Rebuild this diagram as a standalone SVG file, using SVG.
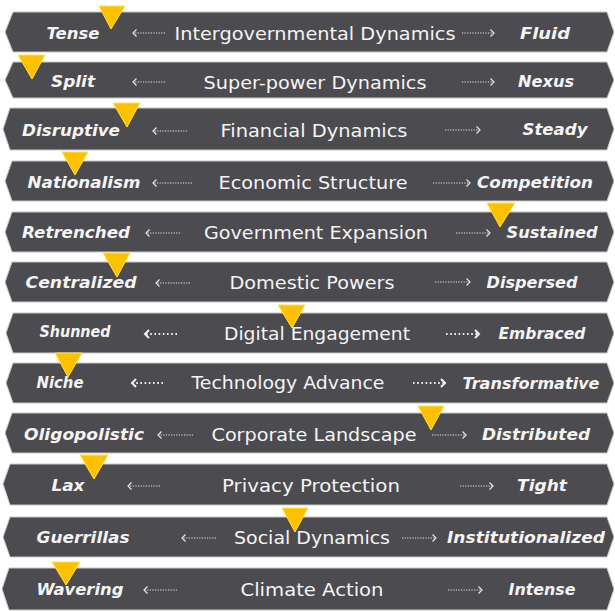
<svg xmlns="http://www.w3.org/2000/svg" width="615" height="611" viewBox="0 0 615 611">
<style>
.band{fill:#4c4b50;stroke:#c8c8c8;stroke-width:1}
.mid{font-family:"DejaVu Sans","Liberation Sans",sans-serif;font-size:18px;fill:#f4f4f4}
.lab{font-family:"DejaVu Sans","Liberation Sans",sans-serif;font-size:16px;font-weight:bold;font-style:italic;fill:#f4f4f4}
.ar{fill:none;stroke:#e6e6e6;stroke-width:1.1;stroke-dasharray:1.2 1.4}
.ar2{fill:none;stroke:#f0f0f0;stroke-width:1.8;stroke-dasharray:1.6 2.6}
.tri{fill:#ffc000;stroke:#ffe24a;stroke-width:1;stroke-linejoin:miter}
</style>
<defs>
<marker id="hd" markerUnits="userSpaceOnUse" markerWidth="10" markerHeight="10" refX="0" refY="0" viewBox="-6 -5 8 10" orient="auto" overflow="visible">
<path d="M-3.5,-3.5 L0,0 L-3.5,3.5" fill="none" stroke="#e6e6e6" stroke-width="1.2"/>
</marker>
<marker id="hd2" markerUnits="userSpaceOnUse" markerWidth="10" markerHeight="10" refX="0" refY="0" viewBox="-6 -5 8 10" orient="auto" overflow="visible">
<path d="M-4,-4 L0,0 L-4,4" fill="none" stroke="#f0f0f0" stroke-width="2"/>
</marker>
</defs>

<g id="row1">
<polygon class="band" points="13,12 607,12 614,32 607,52 13,52 5,32"/>
<text class="lab" x="73" y="39" text-anchor="middle" textLength="53" lengthAdjust="spacingAndGlyphs">Tense</text>
<text class="mid" x="315" y="40" text-anchor="middle" textLength="281" lengthAdjust="spacingAndGlyphs">Intergovernmental Dynamics</text>
<text class="lab" x="545" y="39" text-anchor="middle" textLength="50" lengthAdjust="spacingAndGlyphs">Fluid</text>
</g>
<g id="row2">
<polygon class="band" points="13,62 607,62 614,80 607,98 13,98 5,80"/>
<text class="lab" x="73" y="87" text-anchor="middle" textLength="44" lengthAdjust="spacingAndGlyphs">Split</text>
<text class="mid" x="315" y="89" text-anchor="middle" textLength="223" lengthAdjust="spacingAndGlyphs">Super-power Dynamics</text>
<text class="lab" x="546" y="87" text-anchor="middle" textLength="56" lengthAdjust="spacingAndGlyphs">Nexus</text>
</g>
<g id="row3">
<polygon class="band" points="10,108 607,108 614,129 607,150 10,150 3,129"/>
<text class="lab" x="71" y="136" text-anchor="middle" textLength="98" lengthAdjust="spacingAndGlyphs">Disruptive</text>
<text class="mid" x="314" y="137" text-anchor="middle" textLength="187" lengthAdjust="spacingAndGlyphs">Financial Dynamics</text>
<text class="lab" x="555" y="135" text-anchor="middle" textLength="65" lengthAdjust="spacingAndGlyphs">Steady</text>
</g>
<g id="row4">
<polygon class="band" points="12,161 607,161 614,181 607,201 12,201 5,181"/>
<text class="lab" x="84" y="188" text-anchor="middle" textLength="113" lengthAdjust="spacingAndGlyphs">Nationalism</text>
<text class="mid" x="313" y="189" text-anchor="middle" textLength="189" lengthAdjust="spacingAndGlyphs">Economic Structure</text>
<text class="lab" x="535" y="188" text-anchor="middle" textLength="116" lengthAdjust="spacingAndGlyphs">Competition</text>
</g>
<g id="row5">
<polygon class="band" points="12,212 607,212 614,232 607,252 12,252 5,232"/>
<text class="lab" x="76" y="238" text-anchor="middle" textLength="108" lengthAdjust="spacingAndGlyphs">Retrenched</text>
<text class="mid" x="316" y="239" text-anchor="middle" textLength="224" lengthAdjust="spacingAndGlyphs">Government Expansion</text>
<text class="lab" x="552" y="238" text-anchor="middle" textLength="91" lengthAdjust="spacingAndGlyphs">Sustained</text>
</g>
<g id="row6">
<polygon class="band" points="12,262 607,262 614,282 607,302 12,302 5,282"/>
<text class="lab" x="81" y="288" text-anchor="middle" textLength="111" lengthAdjust="spacingAndGlyphs">Centralized</text>
<text class="mid" x="312" y="289" text-anchor="middle" textLength="165" lengthAdjust="spacingAndGlyphs">Domestic Powers</text>
<text class="lab" x="532" y="288" text-anchor="middle" textLength="91" lengthAdjust="spacingAndGlyphs">Dispersed</text>
</g>
<g id="row7">
<polygon class="band" points="13,313 607,313 614,333 607,353 13,353 6,333"/>
<text class="lab" x="75" y="337" text-anchor="middle" textLength="71" lengthAdjust="spacingAndGlyphs">Shunned</text>
<text class="mid" x="317" y="340" text-anchor="middle" textLength="186" lengthAdjust="spacingAndGlyphs">Digital Engagement</text>
<text class="lab" x="542" y="339" text-anchor="middle" textLength="87" lengthAdjust="spacingAndGlyphs">Embraced</text>
</g>
<g id="row8">
<polygon class="band" points="13,363 607,363 614,383 607,403 13,403 6,383"/>
<text class="lab" x="60" y="388" text-anchor="middle" textLength="47" lengthAdjust="spacingAndGlyphs">Niche</text>
<text class="mid" x="288" y="389" text-anchor="middle" textLength="193" lengthAdjust="spacingAndGlyphs">Technology Advance</text>
<text class="lab" x="531" y="389" text-anchor="middle" textLength="137" lengthAdjust="spacingAndGlyphs">Transformative</text>
</g>
<g id="row9">
<polygon class="band" points="12,413 607,413 614,433 607,453 12,453 5,433"/>
<text class="lab" x="84" y="440" text-anchor="middle" textLength="120" lengthAdjust="spacingAndGlyphs">Oligopolistic</text>
<text class="mid" x="314" y="441" text-anchor="middle" textLength="205" lengthAdjust="spacingAndGlyphs">Corporate Landscape</text>
<text class="lab" x="536" y="440" text-anchor="middle" textLength="108" lengthAdjust="spacingAndGlyphs">Distributed</text>
</g>
<g id="row10">
<polygon class="band" points="10,464 607,464 614,484 607,505 10,505 3,484"/>
<text class="lab" x="68" y="491" text-anchor="middle" textLength="33" lengthAdjust="spacingAndGlyphs">Lax</text>
<text class="mid" x="311" y="492" text-anchor="middle" textLength="178" lengthAdjust="spacingAndGlyphs">Privacy Protection</text>
<text class="lab" x="542" y="491" text-anchor="middle" textLength="50" lengthAdjust="spacingAndGlyphs">Tight</text>
</g>
<g id="row11">
<polygon class="band" points="10,517 607,517 614,537 607,557 10,557 3,537"/>
<text class="lab" x="83" y="543" text-anchor="middle" textLength="93" lengthAdjust="spacingAndGlyphs">Guerrillas</text>
<text class="mid" x="312" y="544" text-anchor="middle" textLength="156" lengthAdjust="spacingAndGlyphs">Social Dynamics</text>
<text class="lab" x="526" y="543" text-anchor="middle" textLength="158" lengthAdjust="spacingAndGlyphs">Institutionalized</text>
</g>
<g id="row12">
<polygon class="band" points="9,568 607,568 614,589 607,610 9,610 2,589"/>
<text class="lab" x="80" y="595" text-anchor="middle" textLength="87" lengthAdjust="spacingAndGlyphs">Wavering</text>
<text class="mid" x="312" y="596" text-anchor="middle" textLength="143" lengthAdjust="spacingAndGlyphs">Climate Action</text>
<text class="lab" x="542" y="595" text-anchor="middle" textLength="67" lengthAdjust="spacingAndGlyphs">Intense</text>
</g>

<g id="connectors">
<path class="ar" d="M165,33 H133" marker-end="url(#hd)"/>
<path class="ar" d="M462,33 H494" marker-end="url(#hd)"/>
<path class="ar" d="M165,82 H133" marker-end="url(#hd)"/>
<path class="ar" d="M462,82 H494" marker-end="url(#hd)"/>
<path class="ar" d="M187,131 H153" marker-end="url(#hd)"/>
<path class="ar" d="M445,130 H480" marker-end="url(#hd)"/>
<path class="ar" d="M192,183 H153" marker-end="url(#hd)"/>
<path class="ar" d="M433,183 H470" marker-end="url(#hd)"/>
<path class="ar" d="M180,233 H146" marker-end="url(#hd)"/>
<path class="ar" d="M456,233 H490" marker-end="url(#hd)"/>
<path class="ar" d="M190,283 H156" marker-end="url(#hd)"/>
<path class="ar" d="M435,282 H470" marker-end="url(#hd)"/>
<path class="ar2" d="M177,334 H145" marker-end="url(#hd2)"/>
<path class="ar2" d="M446,334 H479" marker-end="url(#hd2)"/>
<path class="ar2" d="M163,383 H132" marker-end="url(#hd2)"/>
<path class="ar2" d="M413,383 H445" marker-end="url(#hd2)"/>
<path class="ar" d="M193,435 H158" marker-end="url(#hd)"/>
<path class="ar" d="M432,435 H466" marker-end="url(#hd)"/>
<path class="ar" d="M160,486 H128" marker-end="url(#hd)"/>
<path class="ar" d="M460,486 H493" marker-end="url(#hd)"/>
<path class="ar" d="M216,538 H182" marker-end="url(#hd)"/>
<path class="ar" d="M402,538 H436" marker-end="url(#hd)"/>
<path class="ar" d="M177,590 H144" marker-end="url(#hd)"/>
<path class="ar" d="M448,590 H482" marker-end="url(#hd)"/>
</g>

<g id="markers">
<polygon class="tri" points="99,6 125,6 111,29"/>
<polygon class="tri" points="18,55 45,55 32,79"/>
<polygon class="tri" points="113,103 140,103 127,127"/>
<polygon class="tri" points="62,152 88,152 75,175"/>
<polygon class="tri" points="487,203 515,203 500,227"/>
<polygon class="tri" points="103,253 130,253 117,277"/>
<polygon class="tri" points="278,305 305,305 292,328"/>
<polygon class="tri" points="55,353 82,353 68,377"/>
<polygon class="tri" points="418,406 444,406 431,430"/>
<polygon class="tri" points="80,455 108,455 94,479"/>
<polygon class="tri" points="282,508 308,508 295,532"/>
<polygon class="tri" points="52,562 80,562 66,585"/>
</g>
</svg>
